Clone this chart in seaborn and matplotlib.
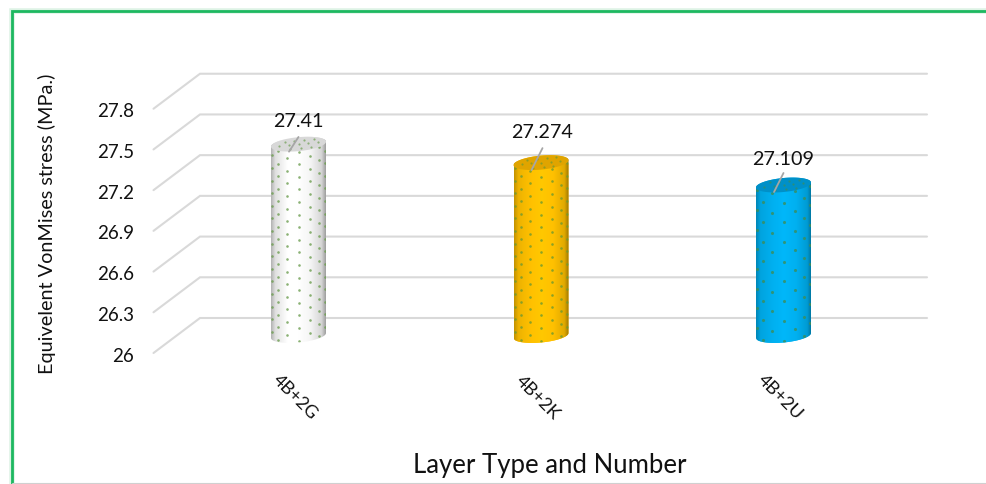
import numpy as np
import pandas as pd
import matplotlib
matplotlib.use("Agg")
import matplotlib.pyplot as plt
from matplotlib.lines import Line2D
from matplotlib.patches import Polygon
from matplotlib.colors import to_rgb
import seaborn as sns

layers = ["4B+2G", "4B+2K", "4B+2U"]
stress = [27.41, 27.274, 27.109]
colors = ["#FFFFFF", "#FFC000", "#00B0F0"]
cap_colors = ["#D8D8D8", "#E0A400", "#0090C8"]
dot_colors = ["#6E9E52", "#6E9A30", "#3C8E5A"]
grid_values = [26, 26.3, 26.6, 26.9, 27.2, 27.5, 27.8]
grid_labels = ["26", "26.3", "26.6", "26.9", "27.2", "27.5", "27.8"]

W, H = 986, 484
PX_X = 242.5      # pixels per category
PX_Y = 135.7      # pixels per MPa
X0, Y0 = 298.5, 335.5   # pixel position of first category at 26 MPa

sns.set_theme(style="white")
plt.rcParams["font.family"] = ["Lato", "DejaVu Sans"]

fig = plt.figure(figsize=(W / 100, H / 100), dpi=100, facecolor="white")
ax = fig.add_axes([0, 0, 1, 1])

df = pd.DataFrame({"layer": layers, "stress": stress})
sns.barplot(data=df, x="layer", y="stress", hue="layer", palette=colors,
            width=55 / PX_X, dodge=False, legend=False, saturation=1, ax=ax, zorder=3)

ax.set_xlim(-X0 / PX_X, (W - X0) / PX_X)
ax.set_ylim(26 - (H - Y0) / PX_Y, 26 + Y0 / PX_Y)
ax.axis("off")


def dx(px):
    return px / PX_X


def dy(px):
    return px / PX_Y


# Depth of the 3D box: the floor's back edge sits above the plotted value, its front edge below
depth = dy(17.5)
back_x0, back_x1 = (200 - X0) / PX_X, (927 - X0) / PX_X
front_x0 = (153.5 - X0) / PX_X

for v, lab in zip(grid_values, grid_labels):
    ax.plot([front_x0, back_x0, back_x1], [v - depth, v + depth, v + depth],
            color="#D9D9D9", lw=1.5, zorder=1, solid_joinstyle="miter")
    ax.text((134 - X0) / PX_X, v - depth - dy(3), lab, ha="right", va="center",
            fontsize=13.5, color="#111111")

RX, RY, TILT = 27.5, 7.0, 0.09
t = np.linspace(0, 2 * np.pi, 181)
shade_pos = [0, 0.08, 0.3, 0.5, 0.72, 0.92, 1]
row_pitch = [12.6, 12.6, 19.7]
label_rise = [22.2, 30.5, 26]
label_shift = [0, 1.5, 0]
leader_rise = [7.2, 14.5, 12]
leader_drop = [7.5, 7.5, 7]

for i, (bar, color, cap) in enumerate(zip(ax.patches, colors, cap_colors)):
    cx = bar.get_x() + bar.get_width() / 2
    top = bar.get_height()
    base = 26.0

    # Cylinder outline: side walls closed by the front halves of both ellipses
    a_low = np.linspace(np.pi, 2 * np.pi, 60)
    a_up = np.linspace(0, np.pi, 60)
    xs = np.r_[cx + dx(RX * np.cos(a_low)), cx + dx(RX * np.cos(a_up))]
    ys = np.r_[base + dy(RY * np.sin(a_low) + TILT * RX * np.cos(a_low)),
               top + dy(RY * np.sin(a_up) + TILT * RX * np.cos(a_up))]
    body = Polygon(np.c_[xs, ys], closed=True, transform=ax.transData, fc="none", ec="none")
    ax.add_patch(body)
    bar.set_clip_path(body)

    # Horizontal shading across the curved wall
    edge = [0.70, 0.88, 1, 1, 0.96, 0.84, 0.62] if i == 0 else [0.76, 0.93, 1.0, 1.04, 1.0, 0.88, 0.62]
    shade = np.interp(np.linspace(0, 1, 200), shade_pos, edge)
    img = np.clip(np.outer(shade, to_rgb(color)), 0, 1)[None, :, :]
    im = ax.imshow(img, extent=[cx - dx(RX), cx + dx(RX), base - dy(12), top + dy(12)],
                   aspect="auto", zorder=4, interpolation="bilinear")
    im.set_clip_path(body)

    # Dots printed on the wall, staggered and compressed toward the edges
    pitch = row_pitch[i]
    wall_x, wall_y = [], []
    for k in range(-3, 4):
        theta = np.radians(24 * k)
        py = np.arange(2.0 + (abs(k) % 2) * pitch / 2, (top - base) * PX_Y, pitch)
        wall_x += [cx + dx(RX * np.sin(theta))] * len(py)
        wall_y += list(base + dy(py - RY * np.cos(theta) + TILT * RX * np.sin(theta)))
    dots = ax.scatter(wall_x, wall_y, s=3.5 if i < 2 else 5, color=dot_colors[i],
                      alpha=0.8, linewidths=0, zorder=5)
    dots.set_clip_path(body)

    # Top face
    cap_xy = np.c_[cx + dx(RX * np.cos(t)), top + dy(RY * np.sin(t) + TILT * RX * np.cos(t))]
    ax.add_patch(Polygon(cap_xy, closed=True, fc=cap, ec="none", zorder=6))
    cap_u = np.array([-0.7, -0.35, 0, 0.35, 0.7, -0.5, -0.15, 0.2, 0.55, -0.3, 0.1, 0.45])
    cap_v = np.array([0, 0, 0, 0, 0, 0.55, 0.55, 0.55, 0.55, -0.6, -0.6, -0.6])
    ax.scatter(cx + dx(RX * cap_u), top + dy(RY * cap_v + TILT * RX * cap_u), s=2.5,
               color=dot_colors[i], alpha=0.7, linewidths=0, zorder=7)

    # Value label with its leader line
    ax.text(cx + dx(label_shift[i]), top + dy(label_rise[i]), f"{stress[i]:g}",
            ha="center", va="center", fontsize=14.2, color="#111111", zorder=9)
    ax.plot([cx - dx(9.5), cx + dx(label_shift[i])], [top - dy(leader_drop[i]), top + dy(leader_rise[i])],
            color="#A6A6A6", lw=1.3, zorder=8)

    ax.text(cx - dx(3), 26 - dy(62), layers[i], rotation=-45, rotation_mode="anchor",
            ha="center", va="center", fontsize=13, color="#111111")

fig.text(47 / W, 1 - 224 / H, "Equivelent VonMises stress (MPa.)", rotation=90,
         ha="center", va="center", fontsize=14.3, color="#111111")
fig.text(549.5 / W, 1 - 466 / H, "Layer Type and Number", ha="center", va="center",
         fontsize=18.5, color="#111111")

# Green outline with a soft halo and a grey edge at the bottom
for width, c in [(5.5, "#DDF3E5"), (2.8, "#1DB860")]:
    fig.add_artist(Line2D([11.5 / W, 11.5 / W, 1], [0, 1 - 11 / H, 1 - 11 / H],
                          color=c, lw=width * 0.72, solid_joinstyle="miter"))
fig.add_artist(Line2D([13 / W, 1], [0.5 / H, 0.5 / H], color="#D0D0D0", lw=1.5))

fig.savefig("out.png", dpi=100)
